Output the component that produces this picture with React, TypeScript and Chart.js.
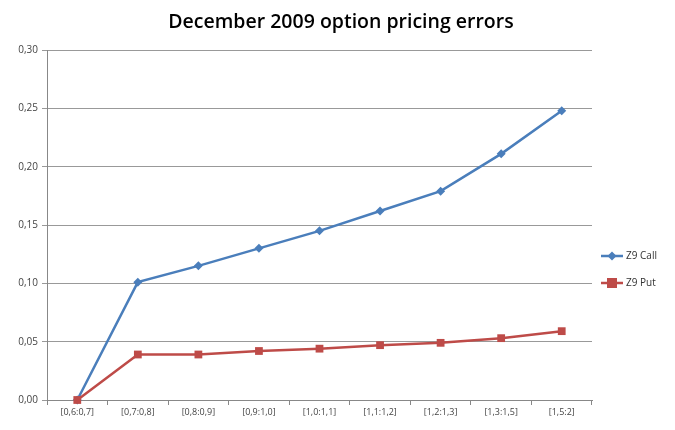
import React, { useEffect, useRef } from "react";
import { Chart, registerables } from "chart.js";

Chart.register(...registerables);

const categories = ["[0,6:0,7]", "[0,7:0,8]", "[0,8:0,9]", "[0,9:1,0]", "[1,0:1,1]", "[1,1:1,2]", "[1,2:1,3]", "[1,3:1,5]", "[1,5:2]"];
const callValues = [0.0, 0.101, 0.115, 0.130, 0.145, 0.162, 0.179, 0.211, 0.248];
const putValues = [0.0, 0.039, 0.039, 0.042, 0.044, 0.047, 0.049, 0.053, 0.059];
const titleText = "December 2009 option pricing errors";
const seriesNames = ["Z9 Call", "Z9 Put"];

const BLUE = "#4A7EBB";
const RED = "#BE4B48";
const FONT = "'Open Sans', 'Liberation Sans', sans-serif";

const overlayPlugin = {
  id: "overlay",
  afterDraw(chart: any) {
    const ctx = chart.ctx;
    ctx.save();
    ctx.fillStyle = "#000";
    ctx.font = `600 19.5px ${FONT}`;
    ctx.textAlign = "center";
    ctx.textBaseline = "middle";
    ctx.fillText(titleText, 341, 22);
    const items = [
      { name: seriesNames[0], color: BLUE, style: "rectRot", r: 4 },
      { name: seriesNames[1], color: RED, style: "rect", r: 5 },
    ];
    items.forEach((it, i) => {
      const y = 256 + i * 27;
      const x0 = 601;
      ctx.strokeStyle = it.color;
      ctx.lineWidth = 2.5;
      ctx.beginPath();
      ctx.moveTo(x0, y);
      ctx.lineTo(x0 + 22, y);
      ctx.stroke();
      ctx.fillStyle = it.color;
      const cx = x0 + 11;
      if (it.style === "rect") {
        ctx.fillRect(cx - it.r, y - it.r, it.r * 2, it.r * 2);
      } else {
        ctx.beginPath();
        ctx.moveTo(cx, y - it.r - 0.5);
        ctx.lineTo(cx + it.r + 0.5, y);
        ctx.lineTo(cx, y + it.r + 0.5);
        ctx.lineTo(cx - it.r - 0.5, y);
        ctx.closePath();
        ctx.fill();
      }
      ctx.fillStyle = "#333";
      ctx.font = `10px ${FONT}`;
      ctx.textAlign = "left";
      ctx.fillText(it.name, x0 + 25, y);
    });
    ctx.restore();
  },
};

export default function App() {
  const ref = useRef<HTMLCanvasElement>(null);
  useEffect(() => {
    if (!ref.current) return;
    const chart = new Chart(ref.current, {
      type: "line",
      data: {
        labels: categories,
        datasets: [
          {
            label: seriesNames[0],
            data: callValues,
            borderColor: BLUE,
            backgroundColor: BLUE,
            borderWidth: 2.5,
            pointStyle: "rectRot",
            pointRadius: 4.5,
            pointBorderWidth: 0,
            tension: 0,
            order: 1,
            clip: false,
          },
          {
            label: seriesNames[1],
            data: putValues,
            borderColor: RED,
            backgroundColor: RED,
            borderWidth: 2.5,
            pointStyle: "rect",
            pointRadius: 5.5,
            pointBorderWidth: 0,
            tension: 0,
            order: 0,
            clip: false,
          },
        ],
      },
      options: {
        animation: false,
        responsive: false,
        maintainAspectRatio: false,
        layout: { padding: { top: 50, right: 83, left: 0, bottom: 0 } },
        plugins: {
          legend: { display: false },
          title: { display: false },
          tooltip: { enabled: false },
        },
        scales: {
          x: {
            offset: true,
            grid: {
              offset: true,
              drawOnChartArea: false,
              drawTicks: true,
              tickLength: 5,
              color: "#888",
            },
            border: { color: "#888", width: 1 },
            ticks: {
              color: "#444",
              font: { family: FONT, size: 9 },
              maxRotation: 0,
              autoSkip: false,
              padding: 2,
            },
            afterFit(scale: any) {
              scale.height = 30;
            },
          },
          y: {
            min: 0,
            max: 0.3,
            ticks: {
              stepSize: 0.05,
              color: "#444",
              font: { family: FONT, size: 10 },
              padding: 4,
              callback: (v: any) => Number(v).toFixed(2).replace(".", ","),
            },
            grid: { color: "#999", lineWidth: 1, tickLength: 5 },
            border: { color: "#888", width: 1 },
            afterFit(scale: any) {
              scale.width = 47;
            },
          },
        },
      },
      plugins: [overlayPlugin],
    });
    return () => chart.destroy();
  }, []);
  return (
    <div style={{ position: "fixed", left: 0, top: 0, width: 675, height: 430, background: "#fff" }}>
      <canvas ref={ref} width={675} height={430} style={{ width: 675, height: 430 }} />
    </div>
  );
}
